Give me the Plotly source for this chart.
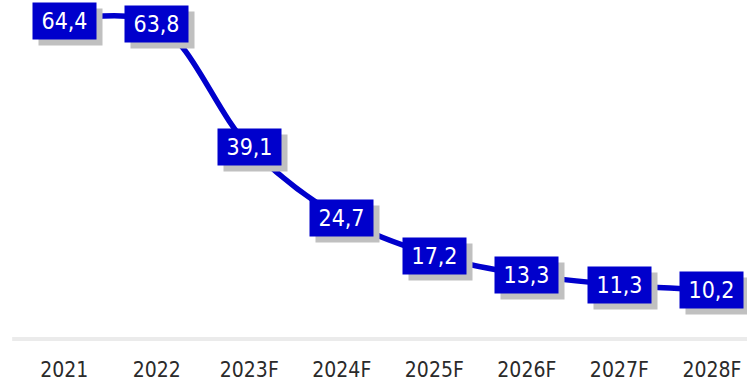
import plotly.graph_objects as go

years = ["2021", "2022", "2023F", "2024F", "2025F", "2026F", "2027F", "2028F"]
values = [64.4, 63.8, 39.1, 24.7, 17.2, 13.3, 11.3, 10.2]
labels = [f"{v:.1f}".replace(".", ",") for v in values]

LINE_BLUE = "#0000CC"
SHADOW = "#c0c0c0"
FONT = "DejaVu Sans Condensed, DejaVu Sans, sans-serif"

fig = go.Figure()
fig.add_trace(go.Scatter(
    x=list(range(len(years))), y=values, mode="lines",
    line=dict(color=LINE_BLUE, width=5.5, shape="spline", smoothing=1.0),
    hoverinfo="skip", showlegend=False,
))

annotations = []
for i, (v, t) in enumerate(zip(values, labels)):
    box = dict(x=i, y=v, xref="x", yref="y", showarrow=False,
               width=57, height=30, borderpad=3, align="center", valign="middle",
               font=dict(family=FONT, size=23, color="white"))
    # blank drop-shadow box behind each value box
    annotations.append(dict(box, text="\u00a0", xshift=6, yshift=-6, bgcolor=SHADOW))
    annotations.append(dict(box, text=t, bgcolor=LINE_BLUE))

fig.update_layout(
    width=747, height=382,
    margin=dict(l=18, r=0, t=0, b=41),
    paper_bgcolor="white", plot_bgcolor="white",
    annotations=annotations,
    xaxis=dict(
        range=[-0.5, 7.38], tickmode="array",
        tickvals=list(range(len(years))), ticktext=years,
        showgrid=False, zeroline=False, showline=False, ticks="",
        tickfont=dict(family=FONT, size=21, color="#2a2a2a"),
        ticklabelstandoff=14,
    ),
    yaxis=dict(range=[0, 68.6], visible=False, showgrid=False, zeroline=False),
    shapes=[dict(type="line", xref="paper", yref="y", x0=-0.008, x1=1, y0=0.3, y1=0.3,
                 line=dict(color="#ebebeb", width=5), layer="below")],
)

fig.write_html("out.html")
